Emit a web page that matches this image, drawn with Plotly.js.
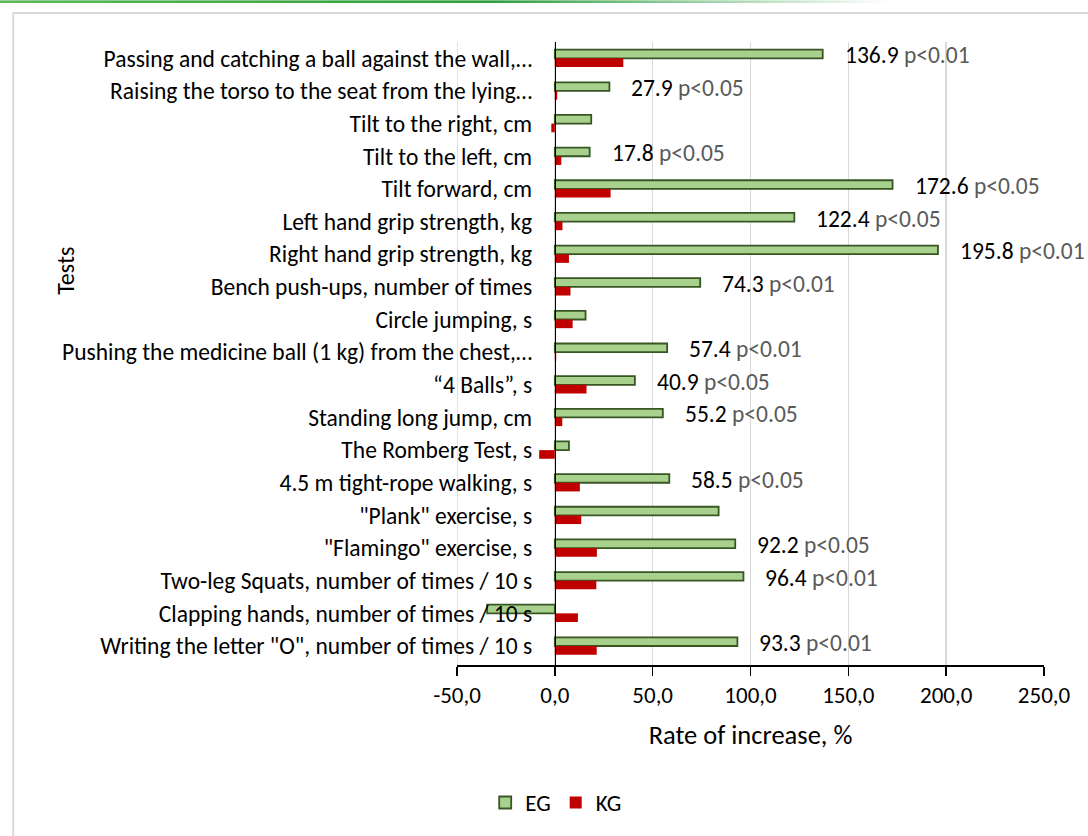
<!DOCTYPE html>
<html>
<head>
<meta charset="utf-8">
<script src="https://cdn.plot.ly/plotly-3.0.1.min.js"></script>
<style>html,body{margin:0;padding:0;background:#fff;}#chart{width:1088px;height:836px;}</style>
</head>
<body>
<div id="chart"></div>
<script>
const categories = [
  'Passing and catching a ball against the wall,…',
  'Raising the torso to the seat from the lying…',
  'Tilt to the right, cm',
  'Tilt to the left, cm',
  'Tilt forward, cm',
  'Left hand grip strength, kg',
  'Right hand grip strength, kg',
  'Bench push-ups, number of times',
  'Circle jumping, s',
  'Pushing the medicine ball (1 kg) from the chest,…',
  '“4 Balls”, s',
  'Standing long jump, cm',
  'The Romberg Test, s',
  '4.5 m tight-rope walking, s',
  '"Plank" exercise, s',
  '"Flamingo" exercise, s',
  'Two-leg Squats, number of times / 10 s',
  'Clapping hands, number of times / 10 s',
  'Writing the letter "O", number of times / 10 s'
];
const egValues = [136.9, 27.9, 18.6, 17.8, 172.6, 122.4, 195.8, 74.3, 15.7, 57.4, 40.9, 55.2, 7.2, 58.5, 83.7, 92.2, 96.4, -34.6, 93.3];
const kgValues = [35.0, 1.2, -1.8, 3.3, 28.5, 3.9, 7.2, 8.0, 9.1, 0.7, 16.2, 3.8, -8.0, 12.8, 13.5, 21.5, 21.2, 11.8, 21.4];
const pValues = ['p<0.01','p<0.05','','p<0.05','p<0.05','p<0.05','p<0.01','p<0.01','','p<0.01','p<0.05','p<0.05','','p<0.05','','p<0.05','p<0.01','','p<0.01'];
const xTickVals = [-50, 0, 50, 100, 150, 200, 250];
const xTickText = ['-50,0', '0,0', '50,0', '100,0', '150,0', '200,0', '250,0'];

const FONT = 'Carlito, Lato, "Open Sans", sans-serif';

const traces = [
  {
    type: 'bar', orientation: 'h', name: 'EG',
    y: categories, x: egValues,
    marker: {color: '#a9d18e', line: {color: '#375623', width: 1.8}},
    hoverinfo: 'x+y'
  },
  {
    type: 'bar', orientation: 'h', name: 'KG',
    y: categories, x: kgValues,
    marker: {color: '#c00000', line: {width: 0}},
    hoverinfo: 'x+y'
  }
];

const annotations = [];
categories.forEach((c, i) => {
  if (pValues[i]) {
    annotations.push({
      x: egValues[i], y: c, xref: 'x', yref: 'y',
      xanchor: 'left', yanchor: 'middle', xshift: 20, yshift: 3,
      showarrow: false,
      text: '<span style="color:#000">' + egValues[i].toFixed(1) + '</span> <span style="color:#595959">' + pValues[i].replace('<', '&lt;') + '</span>',
      font: {family: FONT, size: 23.5}
    });
  }
});
annotations.push({
  x: -0.667, y: 0.6336, xref: 'paper', yref: 'paper', textangle: -90,
  text: 'Tests', showarrow: false, xanchor: 'center', yanchor: 'middle',
  font: {family: FONT, size: 24, color: '#000'}
});

const shapes = [
  {
    type: 'rect', xref: 'paper', yref: 'paper',
    x0: -0.756, x1: 1.2, y0: -0.4, y1: 1.0464,
    line: {color: '#d9d9d9', width: 2}, fillcolor: 'rgba(0,0,0,0)', layer: 'below'
  },
  {
    type: 'line', xref: 'x', yref: 'paper', x0: xTickVals[0], x1: xTickVals[0], y0: 0, y1: 1,
    line: {color: '#d9d9d9', width: 1.5}, layer: 'below'
  }
];

const gradSvg = "<svg xmlns='http://www.w3.org/2000/svg' width='100' height='10' preserveAspectRatio='none'><defs><linearGradient id='g' x1='0' x2='1' y1='0' y2='0'><stop offset='0' stop-color='#5cb85c'/><stop offset='0.55' stop-color='#2e9e3e'/><stop offset='1' stop-color='#ffffff'/></linearGradient></defs><rect width='100' height='10' fill='url(#g)'/></svg>";

const layout = {
  width: 1088, height: 836,
  margin: {l: 457, r: 44, t: 42, b: 169, pad: 0},
  paper_bgcolor: '#fff', plot_bgcolor: 'rgba(0,0,0,0)',
  barmode: 'group', bargap: 0.47, bargroupgap: 0,
  font: {family: FONT, size: 23, color: '#000'},
  showlegend: true,
  legend: {
    orientation: 'h', x: 0.169, xanchor: 'center', y: -0.2208, yanchor: 'middle',
    font: {family: FONT, size: 23, color: '#000'}, itemclick: false, itemwidth: 30
  },
  xaxis: {
    range: [-50, 250], domain: [0, 1],
    tickvals: xTickVals, ticktext: xTickText,
    showgrid: true, gridcolor: '#d9d9d9', gridwidth: 1.5, zeroline: false,
    showline: true, linecolor: '#000', linewidth: 1.5,
    ticks: 'outside', ticklen: 9, tickwidth: 1.5, tickcolor: '#000',
    tickfont: {family: FONT, size: 23, color: '#000'},
    title: {text: 'Rate of increase, %', font: {family: FONT, size: 26.5, color: '#000'}, standoff: 17},
    automargin: false, fixedrange: true
  },
  yaxis: {
    type: 'category', autorange: 'reversed',
    anchor: 'free', position: 1/6,
    showgrid: false, zeroline: false,
    showline: true, linecolor: '#000', linewidth: 1.5,
    ticks: 'outside', ticklen: 18, tickcolor: 'rgba(0,0,0,0)',
    tickfont: {family: FONT, size: 23.5, color: '#000'},
    automargin: false, fixedrange: true
  },
  annotations: annotations,
  shapes: shapes,
  images: [{
    source: 'data:image/svg+xml;charset=utf-8,' + encodeURIComponent(gradSvg),
    xref: 'paper', yref: 'paper', x: -0.7799, y: 1.0672,
    sizex: 1.519, sizey: 0.0048, sizing: 'stretch',
    xanchor: 'left', yanchor: 'top', layer: 'above'
  }]
};

Plotly.newPlot('chart', traces, layout, {displayModeBar: false, staticPlot: true});
</script>
</body>
</html>
